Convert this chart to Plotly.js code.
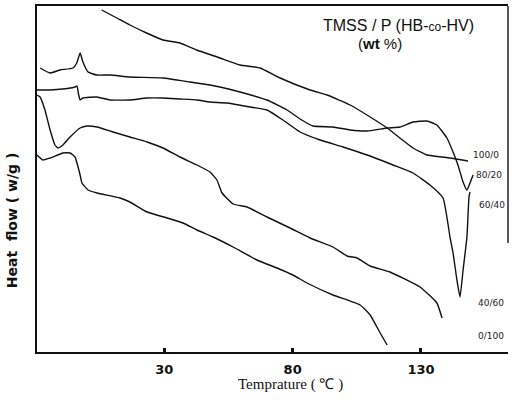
<!DOCTYPE html>
<html>
<head>
<meta charset="utf-8">
<script src="https://cdn.plot.ly/plotly-3.0.1.min.js"></script>
<style>html,body{margin:0;padding:0;background:#fff;}#chart{width:512px;height:402px;}</style>
</head>
<body>
<div id="chart"></div>
<script>
// Series labels (TMSS / P(HB-co-HV) wt %)
var seriesLabels = ['100/0', '80/20', '60/40', '40/60', '0/100'];

var temp100_0 = [5.6, 11.5, 16.6, 23.1, 29.5, 36.1, 42.6, 51.7, 59.5, 67.3, 75.1, 86.8, 93.4, 102.4, 110.2, 116.8, 121.8, 126.9, 132.3, 141.3, 148.3];
var heat100_0 = [342, 334, 327, 319, 312, 309, 302, 294, 287, 284, 274, 262, 257, 247, 235, 224, 214, 204, 197, 194, 191];

var temp80_20 = [-18.4, -14.5, -10.6, -5.6, -4.1, -2.8, -1.7, 0.3, 3.7, 8.8, 16.6, 29.5, 40.0, 47.8, 51.7, 59.5, 70.0, 77.8, 82.9, 87.9, 95.7, 102.4, 109.0, 116.8, 121.8, 126.9, 132.3, 136.2, 140.1, 142.5, 144.4, 146.4, 147.9, 149.1, 150.3];
var heat80_20 = [284, 279, 282, 284, 289, 299, 290, 280, 277, 277, 275, 274, 270, 267, 265, 260, 252, 242, 233, 226, 225, 222, 221, 224, 225, 230, 231, 227, 214, 200, 187, 170, 162, 169, 177];

var temp60_40 = [-19.6, -14.5, -9.5, -4.8, -4.0, -3.5, -2.8, -1.7, 3.8, 8.8, 16.6, 23.3, 29.5, 36.1, 42.7, 47.8, 54.4, 63.4, 70.0, 76.2, 82.9, 90.7, 99.6, 109.0, 119.1, 126.9, 133.5, 138.6, 141.3, 142.5, 144.0, 145.2, 146.4, 147.9, 148.7, 149.1];
var heat60_40 = [262, 262, 263, 265, 266, 259, 252, 254, 255, 252, 252, 254, 254, 253, 252, 250, 249, 245, 242, 232, 220, 212, 205, 197, 187, 179, 167, 154, 115, 99, 72, 55, 82, 115, 155, 160];

var temp40_60 = [-19.6, -18.4, -16.5, -14.5, -12.6, -11.4, -9.5, -6.7, -2.8, -0.1, 3.8, 10.0, 16.6, 23.3, 29.5, 36.1, 42.7, 47.8, 50.5, 52.5, 56.8, 62.2, 70.0, 79.0, 86.8, 95.7, 101.2, 105.1, 110.2, 117.9, 129.6, 136.2, 138.2];
var heat40_60 = [257, 255, 242, 222, 207, 204, 207, 215, 224, 226, 225, 220, 215, 210, 204, 195, 187, 180, 172, 159, 148, 145, 135, 124, 114, 105, 96, 94, 86, 80, 65, 49, 34];

var temp0_100 = [-19.6, -17.3, -14.5, -9.5, -6.7, -4.8, -3.6, -2.8, -2.1, 0.3, 3.8, 12.7, 16.6, 23.3, 31.1, 37.3, 42.7, 49.0, 56.8, 66.1, 73.9, 80.1, 85.6, 95.7, 106.3, 110.2, 114.1, 116.8];
var heat0_100 = [197, 192, 194, 199, 199, 195, 185, 177, 169, 162, 159, 154, 150, 140, 134, 129, 122, 115, 105, 92, 84, 77, 69, 57, 47, 37, 19, 7];

// Curve-end label anchor positions (temperature, heat flow)
var labelTemps = [155.3, 156.5, 157.7, 157.3, 157.3];
var labelHeats = [197, 177, 147, 49, 16];

var tickVals = [30, 80, 130];

var temps = [temp100_0, temp80_20, temp60_40, temp40_60, temp0_100];
var heats = [heat100_0, heat80_20, heat60_40, heat40_60, heat0_100];

var traces = temps.map(function (t, i) {
  return {
    x: t, y: heats[i], type: 'scatter', mode: 'lines', name: seriesLabels[i],
    line: {color: '#111', width: 1.4, shape: 'spline', smoothing: 0.4},
    hoverinfo: 'skip', showlegend: false
  };
});

var annotations = seriesLabels.map(function (lab, i) {
  return {
    x: labelTemps[i], y: labelHeats[i], xref: 'x', yref: 'y', text: lab,
    showarrow: false, font: {family: 'DejaVu Sans', size: 9, color: '#222'},
    xanchor: 'center', yanchor: 'middle'
  };
});

annotations.push({
  xref: 'paper', yref: 'paper', x: 0.768, y: 0.945, xanchor: 'center', yanchor: 'middle',
  text: 'TMSS / P (HB-<span style="font-size:12px">co</span>-HV)', showarrow: false,
  font: {family: 'Liberation Sans', size: 16, color: '#111', weight: 500}
});
annotations.push({
  xref: 'paper', yref: 'paper', x: 0.728, y: 0.893, xanchor: 'center', yanchor: 'middle',
  text: '(<b>wt</b> %)', showarrow: false,
  font: {family: 'Liberation Sans', size: 15, color: '#111'}
});
annotations.push({
  xref: 'paper', yref: 'paper', x: -0.053, y: 0.381, xanchor: 'center', yanchor: 'middle',
  textangle: -90, text: '<b>Heat  flow ( w/g )</b>', showarrow: false,
  font: {family: 'DejaVu Sans', size: 14, color: '#111'}
});
annotations.push({
  xref: 'paper', yref: 'paper', x: 0.538, y: -0.095, xanchor: 'center', yanchor: 'middle',
  text: 'Temprature ( ℃ )', showarrow: false,
  font: {family: 'Liberation Serif', size: 15, color: '#111'}
});

var layout = {
  width: 512, height: 402,
  margin: {l: 37, r: 4, t: 6, b: 50, pad: 0},
  paper_bgcolor: '#fff', plot_bgcolor: '#fff',
  xaxis: {
    range: [-19.6, 163.9], tickvals: tickVals, ticktext: tickVals.map(String),
    ticks: 'inside', ticklen: 4, tickwidth: 3, tickcolor: '#111',
    showline: true, linewidth: 2, linecolor: '#111', mirror: true,
    showgrid: false, zeroline: false, ticklabelstandoff: 4,
    tickfont: {family: 'DejaVu Sans', size: 13, color: '#111', weight: 'bold'}
  },
  yaxis: {
    range: [0, 346], showline: true, linewidth: 2, linecolor: '#111',
    showticklabels: false, ticks: '', showgrid: false, zeroline: false
  },
  shapes: [{
    type: 'line', xref: 'paper', yref: 'paper', x0: 1, x1: 1, y0: 0.315, y1: 1,
    line: {color: '#222', width: 1.5}
  }],
  annotations: annotations,
  showlegend: false
};

Plotly.newPlot('chart', traces, layout, {staticPlot: true, displayModeBar: false});
</script>
</body>
</html>
